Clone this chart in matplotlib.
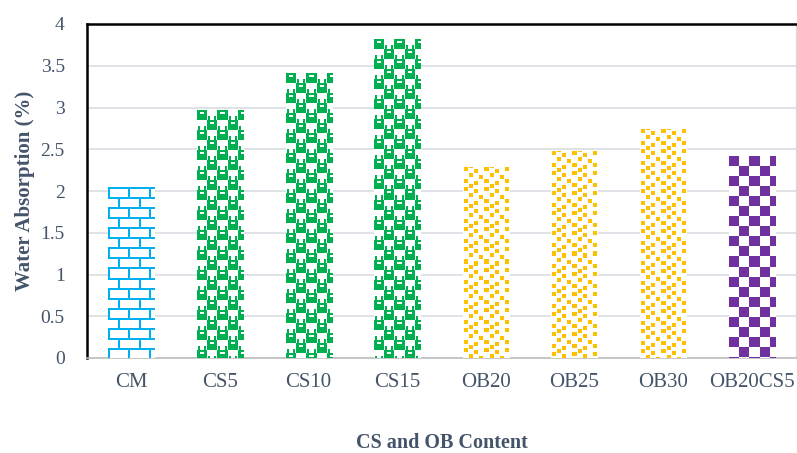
import numpy as np
import matplotlib
matplotlib.use("Agg")
import matplotlib.pyplot as plt
from matplotlib.colors import to_rgba

plt.rcParams['font.family'] = ['Liberation Serif', 'DejaVu Serif']

# 吸水率数据
mixes = ['CM', 'CS5', 'CS10', 'CS15', 'OB20', 'OB25', 'OB30', 'OB20CS5']
water_absorption = [2.04, 2.97, 3.41, 3.81, 2.28, 2.47, 2.74, 2.41]
fill_styles = ['brick', 'dots', 'dots', 'dots', 'confetti', 'confetti', 'confetti', 'checker']
fill_colors = ['#00B0F0', '#00B050', '#00B050', '#00B050',
               '#FFC000', '#FFC000', '#FFC000', '#7030A0']

TEXT_COLOR = '#44546A'


def make_tile(style, color):
    """生成 20x20 像素的填充图案"""
    c = np.array(to_rgba(color))
    tile = np.ones((20, 20, 4))
    mask = np.zeros((20, 20), dtype=bool)
    if style == 'brick':
        mask[0:2, :] = True
        mask[10:12, :] = True
        mask[2:10, 0:2] = True
        mask[12:20, 10:12] = True
    elif style == 'checker':
        mask[0:10, 0:10] = True
        mask[10:20, 10:20] = True
    elif style == 'dots':
        mask[0:10, 0:10] = True
        mask[10:20, 10:20] = True
        # 方块里的白色小缺口
        mask[2:4, 3:7] = False
        mask[12:14, 13:17] = False
        # 白格里的绿色小块
        mask[6:10, 11:13] = True
        mask[6:10, 17:19] = True
        mask[16:20, 1:3] = True
        mask[16:20, 7:9] = True
    elif style == 'confetti':
        for (r, k) in [(0, 1), (2, 11), (6, 6), (8, 16), (12, 1), (14, 11), (17, 6)]:
            rows = [(r + i) % 20 for i in range(4)]
            cols = [(k + j) % 20 for j in range(4)]
            mask[np.ix_(rows, cols)] = True
    tile[mask] = c
    return tile


fig = plt.figure(figsize=(7.97, 4.53), dpi=100)
ax = fig.add_axes([87 / 797, 95 / 453, 709 / 797, 334 / 453])

bars = ax.bar(range(len(mixes)), water_absorption, width=0.52,
              color='white', edgecolor='none', zorder=2)

ax.set_xlim(-0.5, len(mixes) - 0.5)
ax.set_ylim(0, 4)
ax.set_yticks(np.arange(0, 4.01, 0.5))
ax.set_yticklabels(['0', '0.5', '1', '1.5', '2', '2.5', '3', '3.5', '4'])
ax.set_xticks(range(len(mixes)))
ax.set_xticklabels(mixes)

# 用图案填充每根柱子
fig.canvas.draw()
for bar, style, color in zip(bars, fill_styles, fill_colors):
    x0, w, h = bar.get_x(), bar.get_width(), bar.get_height()
    p0 = ax.transData.transform((x0, 0))
    p1 = ax.transData.transform((x0 + w, h))
    npx_w = max(int(round(p1[0] - p0[0])), 1)
    npx_h = max(int(round(p1[1] - p0[1])), 1)
    tile = make_tile(style, color)
    reps = (npx_h // 20 + 2, npx_w // 20 + 2, 1)
    img = np.tile(tile, reps)[:npx_h, :npx_w]
    ax.imshow(img, extent=(x0, x0 + w, 0, h), aspect='auto',
              interpolation='nearest', zorder=3)

ax.set_xlim(-0.5, len(mixes) - 0.5)
ax.set_ylim(0, 4)

ax.grid(axis='y', color='#D9DDE3', linewidth=1.2, zorder=0)
ax.set_axisbelow(True)
ax.spines['top'].set_color('black')
ax.spines['top'].set_linewidth(1.8)
ax.spines['left'].set_color('black')
ax.spines['left'].set_linewidth(1.8)
ax.spines['right'].set_color('#D9D9D9')
ax.spines['bottom'].set_color('#BFBFBF')
ax.spines['bottom'].set_linewidth(1.2)

ax.tick_params(axis='both', length=0, colors=TEXT_COLOR)
ax.tick_params(axis='y', labelsize=14, pad=16)
ax.tick_params(axis='x', labelsize=15, pad=11)

ax.set_ylabel('Water Absorption (%)', fontsize=15, fontweight='bold',
              color=TEXT_COLOR, labelpad=4)
ax.set_xlabel('CS and OB Content', fontsize=14.5, fontweight='bold',
              color=TEXT_COLOR, labelpad=29)

fig.savefig('out.png', dpi=100)
